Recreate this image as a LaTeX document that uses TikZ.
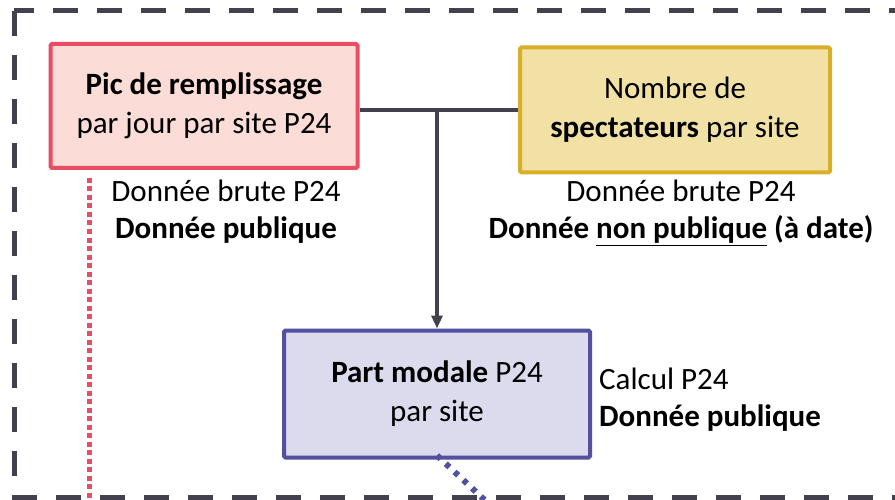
\documentclass[tikz,border=0pt]{standalone}
\usepackage{fontspec}
\setmainfont{Carlito}
\usetikzlibrary{arrows.meta}

\definecolor{framegray}{RGB}{68,65,78}
\definecolor{pinkline}{RGB}{233,77,100}
\definecolor{pinkfill}{RGB}{251,220,214}
\definecolor{goldline}{RGB}{216,175,40}
\definecolor{goldfill}{RGB}{242,225,165}
\definecolor{violetline}{RGB}{83,80,160}
\definecolor{violetfill}{RGB}{220,219,237}

\begin{document}
\begin{tikzpicture}[x=1pt,y=-1pt,>={Triangle[length=13pt,width=11pt]},
	databox/.style={draw,line width=4pt,rounded corners=1.5pt,align=center,
		inner sep=0pt,font=\fontsize{31}{39}\selectfont},
	note/.style={align=center,inner sep=0pt,font=\fontsize{31}{37}\selectfont}]

	\useasboundingbox (0,0) rectangle (895,500);
	\clip (0,0) rectangle (895,500);

	% dashed frame
	\draw[framegray,line width=5pt,dash pattern=on 25pt off 19pt] (14,11) rectangle (902,497);

	% boxes
	\node[databox,draw=pinkline,fill=pinkfill,minimum width=307pt,minimum height=124pt]
		(pic) at (204,106) {\textbf{Pic de remplissage}\\par jour par site P24};
	\node[databox,draw=goldline,fill=goldfill,minimum width=310pt,minimum height=125pt]
		(spect) at (675,110) {Nombre de\\\textbf{spectateurs} par site};
	\node[databox,draw=violetline,fill=violetfill,minimum width=306pt,minimum height=127pt]
		(part) at (437,394) {\textbf{Part modale} P24\\par site};

	% annotations
	\node[note] (picnote) at (226,212) {Donnée brute P24\\\textbf{Donnée publique}};
	\node[note] (spectnote) at (681,213) {Donnée brute P24\\\textbf{Donnée \underline{non publique} (à date)}};
	\node[note,align=left,anchor=west] (partnote) at (599,400) {Calcul P24\\\textbf{Donnée publique}};

	% connectors
	\coordinate (join) at (part.north |- spect.west);
	\draw[framegray,line width=4pt] (pic.east |- spect.west) -- (spect.west);
	\draw[framegray,line width=4pt,->] (join) -- (part.north);

	% dotted links leaving the frame
	\coordinate (picout) at (89,505);
	\coordinate (partout) at (490,505);
	\draw[pinkline,line width=5pt,dash pattern=on 5pt off 3.5pt] (89,178) -- (picout);
	\draw[violetline,line width=6pt,dash pattern=on 5pt off 7pt] ([yshift=4pt]part.south) -- (partout);

\end{tikzpicture}
\end{document}
